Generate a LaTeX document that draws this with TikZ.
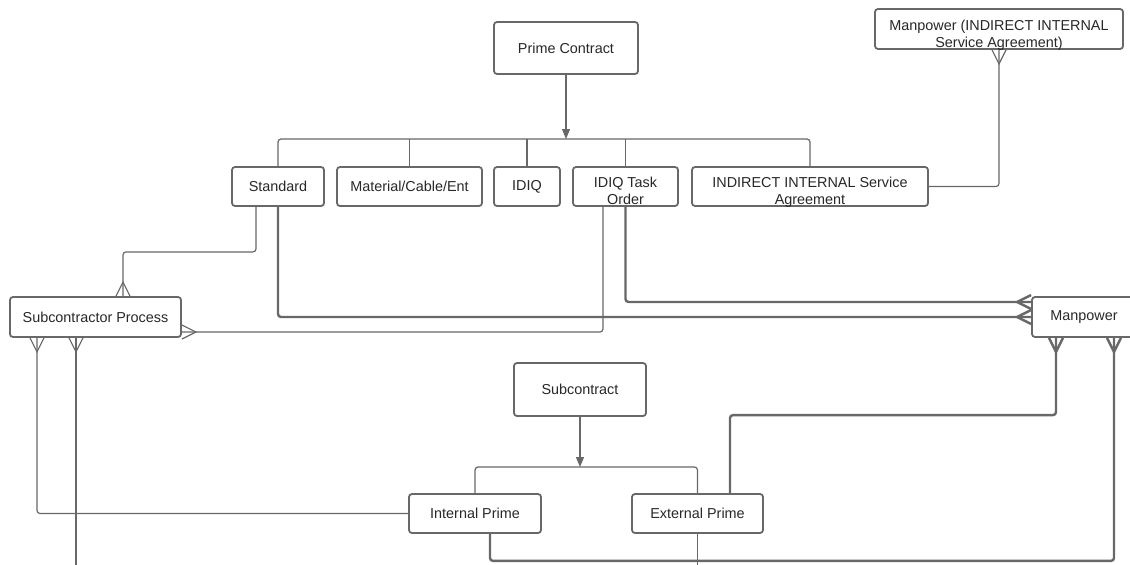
\documentclass[tikz,border=0pt]{standalone}
\usepackage{fontspec}
\setmainfont{Liberation Sans}
\usepackage{tikz}
\usetikzlibrary{arrows.meta}
\usetikzlibrary{calc}
\definecolor{linegray}{RGB}{104,104,104}
\definecolor{textgray}{RGB}{40,40,40}
% two centred lines, set a bit low as in the boxes of the chart
\newcommand{\twolines}[2]{\raisebox{-6.5pt}[\height][\depth]{\begin{tabular}{@{}c@{}}#1\\#2\end{tabular}}}
% crow's foot for the "many" ends
\pgfdeclarearrow{
  name = Crow,
  parameters = {\the\pgflinewidth},
  setup code = {
    \pgfarrowssettipend{0pt}
    \pgfarrowssetlineend{0pt}
    \pgfarrowssetbackend{-14pt}
    \pgfarrowsupperhullpoint{0pt}{7pt}
    \pgfarrowsupperhullpoint{-14pt}{0pt}
  },
  drawing code = {
    \pgfpathmoveto{\pgfpoint{0pt}{7pt}}
    \pgfpathlineto{\pgfpoint{-14pt}{0pt}}
    \pgfpathlineto{\pgfpoint{0pt}{-7pt}}
    \pgfusepathqstroke
  },
}
\tikzset{
  box/.style={draw=linegray, line width=1.8pt, rounded corners=3pt, text=textgray,
    align=center, font=\fontsize{14.4}{17}\selectfont, inner sep=0pt},
  thin link/.style={draw=linegray, line width=1.2pt, rounded corners=3pt},
  thick link/.style={draw=linegray, line width=2.4pt, rounded corners=3pt},
  down arrow/.style={thin link, -{Triangle[length=10pt,width=8pt]}},
}

\begin{document}
\begin{tikzpicture}[x=1pt, y=-1pt]
\clip (0,0) rectangle (1130,565);
\fill[white] (0,0) rectangle (1130,565);

% prime contract side
\node[box, minimum width=144pt, minimum height=52pt] (prime) at (566,48) {Prime Contract};
\node[box, minimum width=92pt, minimum height=39pt] (standard) at (278,186.5) {Standard};
\node[box, minimum width=145pt, minimum height=39pt] (material) at (409.5,186.5) {Material/Cable/Ent};
\node[box, minimum width=66pt, minimum height=39pt] (idiq) at (527,186.5) {IDIQ};
\node[box, minimum width=105pt, minimum height=39pt] (idiqtask) at (625.5,186.5) {\twolines{IDIQ Task}{Order}};
\node[box, minimum width=236pt, minimum height=39pt] (indirect) at (810,186.5) {\twolines{INDIRECT INTERNAL Service}{Agreement}};
\node[box, minimum width=248pt, minimum height=40pt] (mpisa) at (999,29) {\twolines{Manpower (INDIRECT INTERNAL}{Service Agreement)}};

\node[box, minimum width=171pt, minimum height=40pt] (subproc) at (95.5,317) {Subcontractor Process};
\node[box, minimum width=104pt, minimum height=40pt] (manpower) at (1084,317) {Manpower};

% subcontract side
\node[box, minimum width=132pt, minimum height=53pt] (subcontract) at (580,389.5) {Subcontract};
\node[box, minimum width=132pt, minimum height=39pt] (internal) at (475,513.5) {Internal Prime};
\node[box, minimum width=131pt, minimum height=39pt] (external) at (697.5,513.5) {External Prime};

\coordinate (pbus) at (566,139);
\coordinate (sbus) at (580,467);
\coordinate (subout) at (76,570);
\coordinate (extout) at (697.5,570);

% prime contract tree
\draw[down arrow] (prime.south) -- (pbus);
\draw[thin link] (standard.north) -- (standard.north |- pbus) -- (indirect.north |- pbus) -- (indirect.north);
\draw[thin link] (material.north) -- (material.north |- pbus);
\draw[thin link] (idiq.north) -- (idiq.north |- pbus);
\draw[thin link] (idiqtask.north) -- (idiqtask.north |- pbus);

% subcontract tree
\draw[down arrow] (subcontract.south) -- (sbus);
\draw[thin link] (internal.north) -- (internal.north |- sbus) -- (external.north |- sbus) -- (external.north);

% links
\draw[thin link, -{Crow}] (indirect.east) -| (mpisa.south);
\draw[thin link, -{Crow}] ([xshift=-22pt]standard.south) -- ++(0,45) -| ([xshift=27.5pt]subproc.north);
\draw[thick link, -{Crow}] (standard.south) |- (manpower.west);
\draw[thick link, -{Crow}] (idiqtask.south) |- ([yshift=15pt]manpower.west);
\draw[thin link, -{Crow}] ([xshift=-22.5pt]idiqtask.south) |- ([yshift=-15pt]subproc.east);
\draw[thick link, -{Crow}] ([xshift=32.5pt]external.north) -- ++(0,-78) -| ([xshift=-28pt]manpower.south);
\draw[thick link, -{Crow}] ([xshift=15pt]internal.south) -- ++(0,27) -| ([xshift=30pt]manpower.south);
\draw[thin link, -{Crow}] (internal.west) -| ([xshift=-58.5pt]subproc.south);
\draw[thin link, {Crow}-] ([xshift=-19.5pt]subproc.south) -- (subout);
\draw[thin link] (external.south) -- (extout);
\end{tikzpicture}
\end{document}
